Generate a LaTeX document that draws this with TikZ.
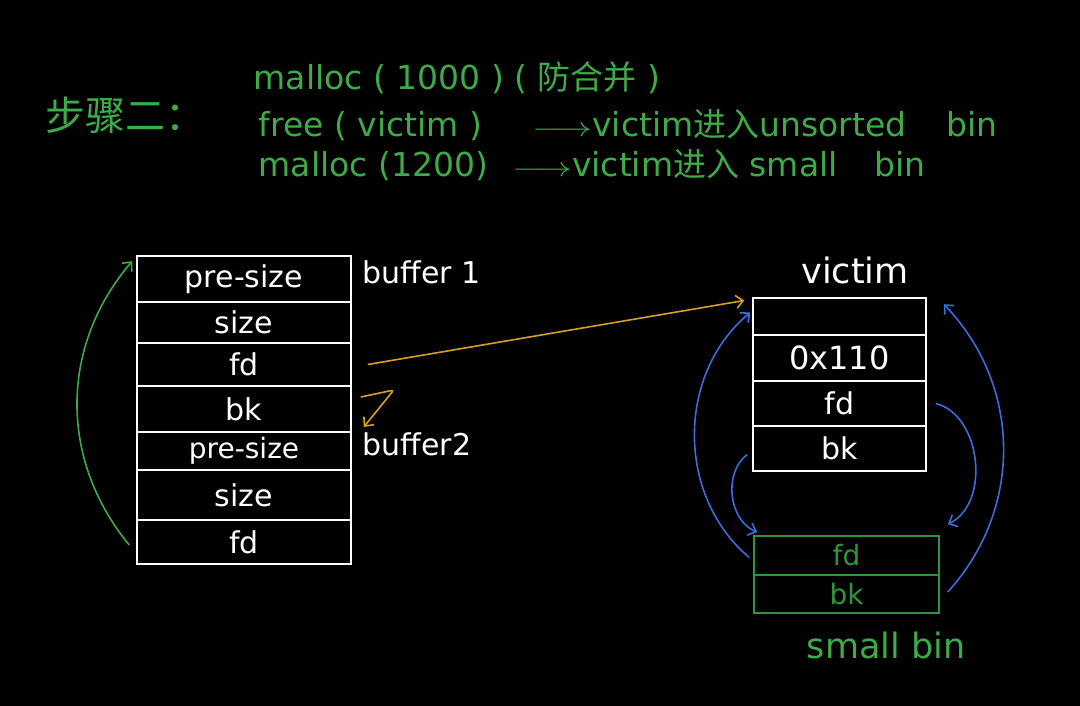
\documentclass[tikz,border=0pt]{standalone}
\usepackage{fontspec}
\setmainfont{DejaVu Sans}
\newfontfamily\cjk{Noto Sans CJK SC}
\usetikzlibrary{arrows.meta, positioning}
\definecolor{chalkgreen}{RGB}{62,170,72}
\definecolor{chalkorange}{RGB}{214,160,36}
\definecolor{chalkblue}{RGB}{58,110,220}
\definecolor{bingreen}{RGB}{46,150,56}
\newcommand{\longarr}{\scalebox{1.5}[1.1]{$\longrightarrow$}}

\begin{document}
\begin{tikzpicture}[x=1pt, y=-1pt, line width=1.6pt,
    >={Straight Barb[length=7pt,width=13pt]},
    cell/.style={draw=white, text=white, inner sep=0pt, font=\fontsize{30}{32}\selectfont},
    bincell/.style={draw=bingreen, text=bingreen, inner sep=0pt, font=\fontsize{28}{30}\selectfont, minimum width=185pt},
    lbl/.style={text=white, inner sep=0pt, font=\fontsize{30}{32}\selectfont},
    note/.style={text=chalkgreen, inner sep=0pt, font=\fontsize{33}{36}\selectfont}]
    \fill[black] (0,0) rectangle (1080,706);
    \useasboundingbox (0,0) rectangle (1080,706);

    % header
    \node[note, anchor=west, font=\fontsize{40}{44}\selectfont] (step) at (45,115) {\cjk 步骤二：};
    \node[note, anchor=west] (l1) at (253,78) {malloc ( 1000 ) ( {\cjk 防合并} )};
    \node[note, anchor=west] (l2) at (258,125) {free ( victim )\hspace{50pt}\longarr victim{\cjk 进入}unsorted\hspace{30pt} bin};
    \node[note, anchor=west] (l3) at (258,165) {malloc (1200)\hspace{24pt}\longarr victim{\cjk 进入} small\hspace{26pt} bin};

    % buffer chunks
    \begin{scope}[every node/.append style={cell, minimum width=214pt}]
        \node[minimum height=46pt] (b1) at (244,279) {pre-size};
        \node[minimum height=41pt] (b2) at (244,322.5) {size};
        \node[minimum height=43pt] (b3) at (244,364.5) {fd};
        \node[minimum height=46pt] (b4) at (244,409) {bk};
        \node[minimum height=38pt, font=\fontsize{28}{30}\selectfont] (b5) at (244,451) {pre-size};
        \node[minimum height=50pt] (b6) at (244,495) {size};
        \node[minimum height=44pt] (b7) at (244,542) {fd};
    \end{scope}
    \node[lbl, anchor=west] (buf1) at (362,272) {buffer 1};
    \node[lbl, anchor=west] (buf2) at (362,444) {buffer2};

    % victim chunk
    \begin{scope}[every node/.append style={cell, minimum width=173pt}]
        \node[minimum height=37pt] (v1) at (839.5,316.5) {};
        \node[minimum height=46pt, font=\fontsize{32}{34}\selectfont] (v2) at (839.5,358) {0x110};
        \node[minimum height=45pt] (v3) at (839.5,403.5) {fd};
        \node[minimum height=45pt] (v4) at (839.5,448.5) {bk};
    \end{scope}
    \node[lbl, font=\fontsize{35}{37}\selectfont] (vlbl) at (855,270) {victim};

    % small bin
    \node[bincell, minimum height=39pt] (s1) at (846.5,555.5) {fd};
    \node[bincell, minimum height=38pt] (s2) at (846.5,594) {bk};
    \node[lbl, text=chalkgreen, font=\fontsize{35}{37}\selectfont] (sblbl) at (886,645) {small bin};

    % pointers
    \draw[chalkgreen, ->] ([xshift=-7pt,yshift=-3pt]b7.west) to[bend left=40] ([xshift=-4pt,yshift=-6pt]b1.north west);
    \draw[chalkorange, ->] ([xshift=16pt]b3.east) -- ([xshift=-8pt,yshift=16pt]v1.west);
    \draw[chalkorange, ->, rounded corners=3pt] ([xshift=9pt,yshift=12pt]b4.east) -- ([xshift=42pt,yshift=19pt]b4.east) -- ([xshift=12pt,yshift=-18pt]b4.east);

    \draw[chalkblue, ->] ([xshift=-4pt,yshift=-2pt]s1.west) to[bend left=50] ([xshift=-2pt,yshift=4pt]v1.west);
    \draw[chalkblue, ->] ([xshift=-5pt,yshift=-6pt]v4.west) to[bend right=60] ([xshift=4pt,yshift=3pt]s1.north west);
    \draw[chalkblue, ->] ([xshift=9pt]v3.east) to[bend left=70] ([xshift=8pt,yshift=11pt]s1.north east);
    \draw[chalkblue, ->] ([xshift=8pt,yshift=2pt]s2.east) to[bend right=43] ([xshift=17pt,yshift=-7pt]v1.north east);
\end{tikzpicture}
\end{document}
